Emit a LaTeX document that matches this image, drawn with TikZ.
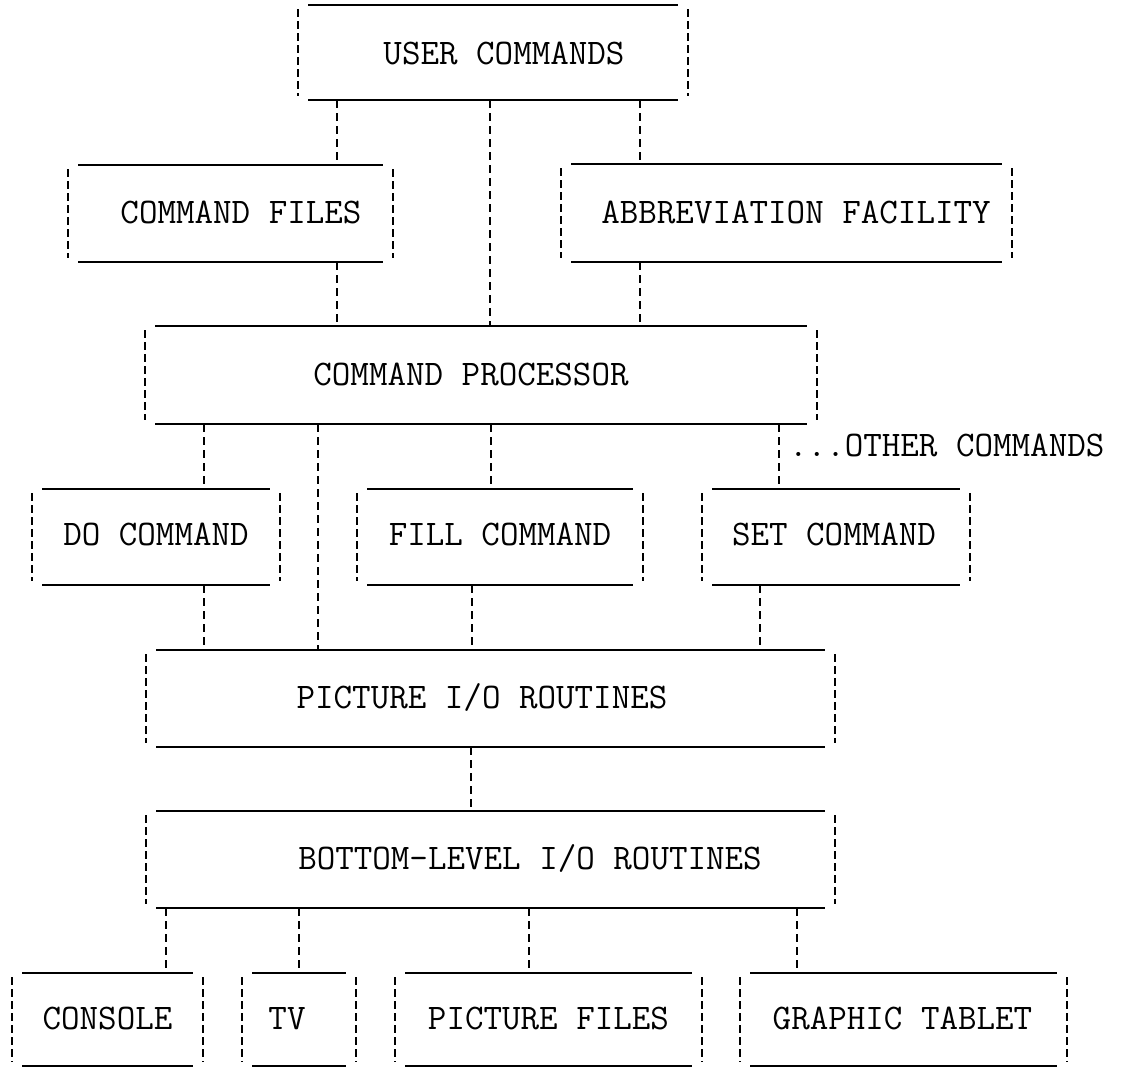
\documentclass[tikz,border=0pt]{standalone}
\usepackage{fontspec}
\newcommand{\framebx}[1]{%
  \draw[hline] (#1.north west) -- (#1.north east) (#1.south west) -- (#1.south east);
  \draw[sideline] ([xshift=-10pt,yshift=-4pt]#1.north west) -- ([xshift=-10pt,yshift=4pt]#1.south west);
  \draw[sideline] ([xshift=10pt,yshift=-4pt]#1.north east) -- ([xshift=10pt,yshift=4pt]#1.south east);
}
\begin{document}
\begin{tikzpicture}[x=1pt,y=-1pt,
  bx/.style={rectangle, inner sep=0pt, outer sep=0pt},
  hline/.style={line width=2.6pt},
  sideline/.style={line width=2.6pt, dash pattern=on 8pt off 4pt},
  conn/.style={line width=2.4pt, dash pattern=on 8pt off 5pt},
  lbl/.style={font=\fontsize{36}{40}\selectfont\ttfamily\addfontfeatures{FakeBold=0.6}, inner sep=0pt, anchor=base}]
\useasboundingbox (0,0) rectangle (1128,1068);

% boxes
\node[bx, minimum width=370pt, minimum height=95pt] (usr) at (493,52.5) {};
\node[bx, minimum width=305pt, minimum height=97pt] (cf) at (230.5,213.5) {};
\node[bx, minimum width=431pt, minimum height=98pt] (abb) at (786.5,213) {};
\node[bx, minimum width=652pt, minimum height=98pt] (cp) at (481,375) {};
\node[bx, minimum width=228pt, minimum height=96pt] (do) at (156,537) {};
\node[bx, minimum width=266pt, minimum height=96pt] (fill) at (500,537) {};
\node[bx, minimum width=248pt, minimum height=96pt] (set) at (836,537) {};
\node[bx, minimum width=669pt, minimum height=97pt] (pio) at (490.5,698.5) {};
\node[bx, minimum width=669pt, minimum height=97pt] (bl) at (490.5,859.5) {};
\node[bx, minimum width=171pt, minimum height=93pt] (con) at (107.5,1019.5) {};
\node[bx, minimum width=94pt, minimum height=93pt] (tv) at (299,1019.5) {};
\node[bx, minimum width=287pt, minimum height=93pt] (pf) at (548.5,1019.5) {};
\node[bx, minimum width=307pt, minimum height=93pt] (gt) at (903.5,1019.5) {};

\foreach \b in {usr,cf,abb,cp,do,fill,set,pio,bl,con,tv,pf,gt}{\framebx{\b}}

% labels
\node[lbl] (usr-t) at (504,64) {USER COMMANDS};
\node[lbl] (cf-t) at (241,223) {COMMAND FILES};
\node[lbl] (abb-t) at (796,223) {ABBREVIATION FACILITY};
\node[lbl] (cp-t) at (471,385) {COMMAND PROCESSOR};
\node[lbl] (do-t) at (156,545) {DO COMMAND};
\node[lbl] (fill-t) at (500,545) {FILL COMMAND};
\node[lbl] (set-t) at (834,545) {SET COMMAND};
\node[lbl] (pio-t) at (482,708) {PICTURE I/O ROUTINES};
\node[lbl] (bl-t) at (530,869) {BOTTOM-LEVEL I/O ROUTINES};
\node[lbl] (con-t) at (107.5,1029) {CONSOLE};
\node[lbl] (tv-t) at (287,1029) {TV};
\node[lbl] (pf-t) at (548.5,1029) {PICTURE FILES};
\node[lbl] (gt-t) at (902.5,1029) {GRAPHIC TABLET};
\node[lbl, anchor=base west] (oth) at (789,456) {...OTHER COMMANDS};

% connectors
\draw[conn] (usr.south -| 337,0) -- (cf.north -| 337,0);
\draw[conn] (usr.south -| 490,0) -- (cp.north -| 490,0);
\draw[conn] (usr.south -| 640,0) -- (abb.north -| 640,0);
\draw[conn] (cf.south -| 337,0) -- (cp.north -| 337,0);
\draw[conn] (abb.south -| 640,0) -- (cp.north -| 640,0);
\draw[conn] (cp.south -| 204,0) -- (do.north -| 204,0);
\draw[conn] (cp.south -| 318,0) -- (pio.north -| 318,0);
\draw[conn] (cp.south -| 491,0) -- (fill.north -| 491,0);
\draw[conn] (cp.south -| 779,0) -- (set.north -| 779,0);
\draw[conn] (do.south -| 204,0) -- (pio.north -| 204,0);
\draw[conn] (fill.south -| 472,0) -- (pio.north -| 472,0);
\draw[conn] (set.south -| 760,0) -- (pio.north -| 760,0);
\draw[conn] (pio.south -| 471,0) -- (bl.north -| 471,0);
\draw[conn] (bl.south -| 166,0) -- (con.north -| 166,0);
\draw[conn] (bl.south -| 299,0) -- (tv.north -| 299,0);
\draw[conn] (bl.south -| 529,0) -- (pf.north -| 529,0);
\draw[conn] (bl.south -| 797,0) -- (gt.north -| 797,0);
\end{tikzpicture}
\end{document}
